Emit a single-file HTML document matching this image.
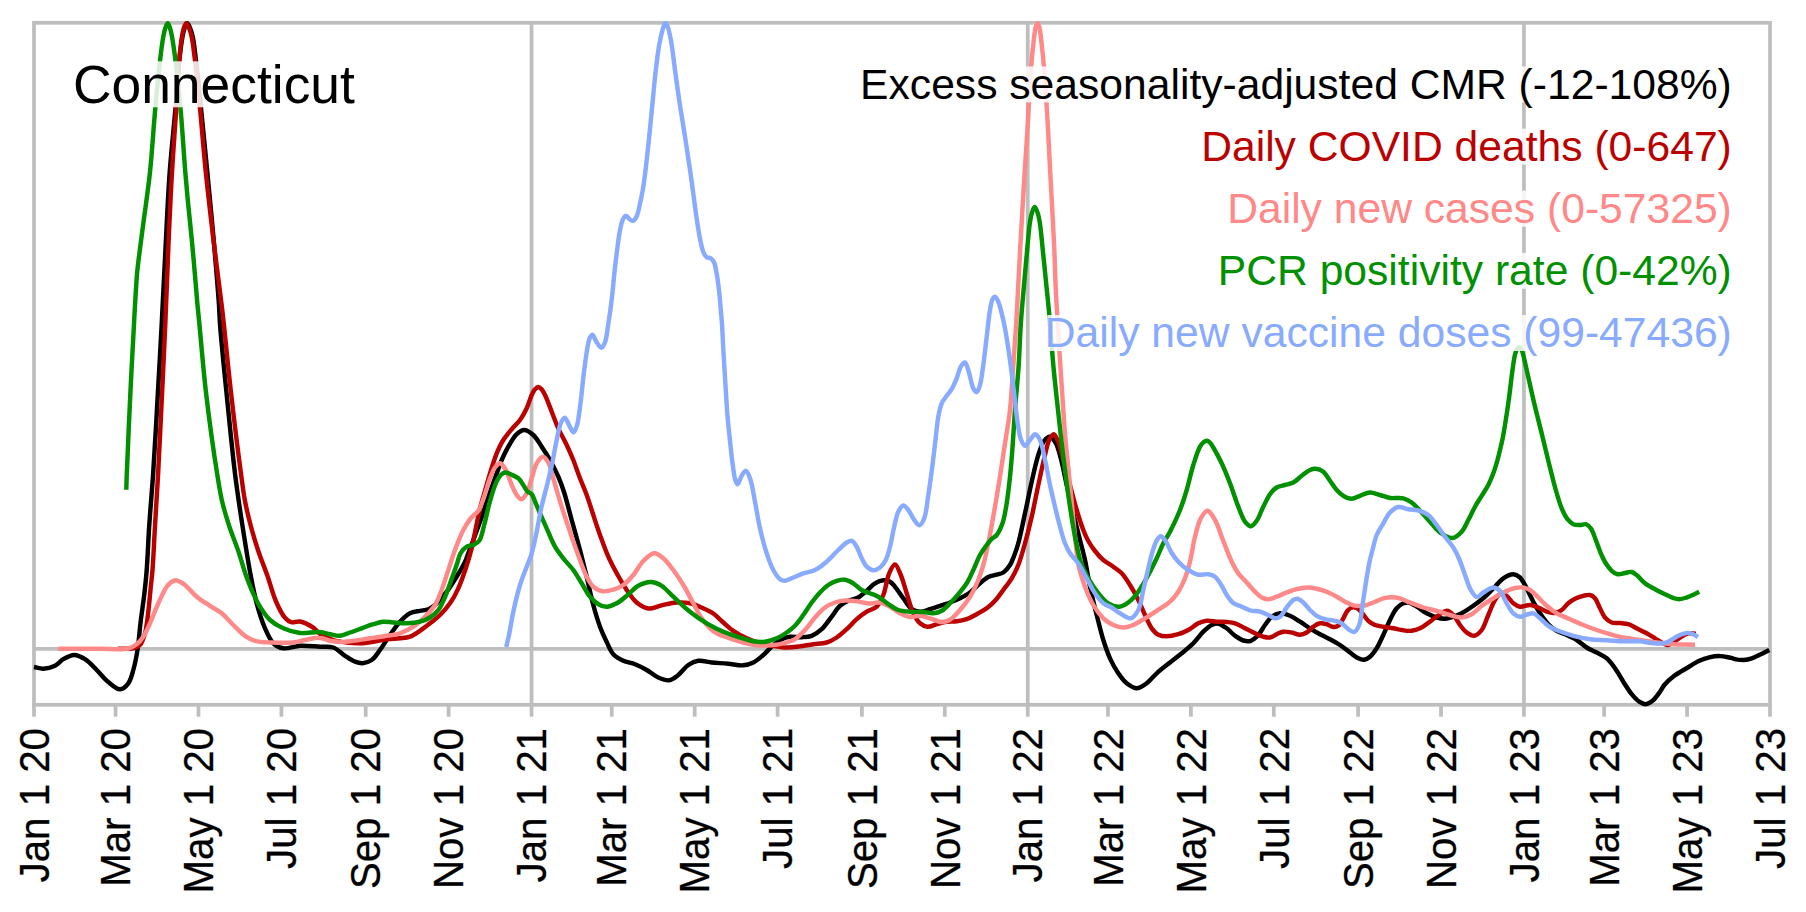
<!DOCTYPE html>
<html lang="en"><head><meta charset="utf-8"><title>Connecticut</title>
<style>html,body{margin:0;padding:0;background:#fff}body{width:1806px;height:912px;overflow:hidden}svg{display:block}text{font-family:"Liberation Sans", Arial, Helvetica, sans-serif}</style></head><body>
<svg width="1806" height="912" viewBox="0 0 1806 912">
<rect width="1806" height="912" fill="#fff"/>
<rect x="34.00" y="22.80" width="1736.00" height="682.00" fill="#fff" stroke="#bebebe" stroke-width="3.75"/>
<g stroke="#bebebe" stroke-width="3.75" fill="none">
<line x1="531.55" y1="22.80" x2="531.55" y2="704.80"/>
<line x1="1027.75" y1="22.80" x2="1027.75" y2="704.80"/>
<line x1="1523.94" y1="22.80" x2="1523.94" y2="704.80"/>
<line x1="34.00" y1="648.75" x2="1770.00" y2="648.75"/>
<line x1="34.00" y1="704.80" x2="34.00" y2="716.70"/>
<line x1="115.57" y1="704.80" x2="115.57" y2="716.70"/>
<line x1="198.49" y1="704.80" x2="198.49" y2="716.70"/>
<line x1="281.42" y1="704.80" x2="281.42" y2="716.70"/>
<line x1="365.70" y1="704.80" x2="365.70" y2="716.70"/>
<line x1="448.63" y1="704.80" x2="448.63" y2="716.70"/>
<line x1="531.55" y1="704.80" x2="531.55" y2="716.70"/>
<line x1="611.76" y1="704.80" x2="611.76" y2="716.70"/>
<line x1="694.69" y1="704.80" x2="694.69" y2="716.70"/>
<line x1="777.61" y1="704.80" x2="777.61" y2="716.70"/>
<line x1="861.90" y1="704.80" x2="861.90" y2="716.70"/>
<line x1="944.82" y1="704.80" x2="944.82" y2="716.70"/>
<line x1="1027.75" y1="704.80" x2="1027.75" y2="716.70"/>
<line x1="1107.95" y1="704.80" x2="1107.95" y2="716.70"/>
<line x1="1190.88" y1="704.80" x2="1190.88" y2="716.70"/>
<line x1="1273.81" y1="704.80" x2="1273.81" y2="716.70"/>
<line x1="1358.09" y1="704.80" x2="1358.09" y2="716.70"/>
<line x1="1441.02" y1="704.80" x2="1441.02" y2="716.70"/>
<line x1="1523.94" y1="704.80" x2="1523.94" y2="716.70"/>
<line x1="1604.15" y1="704.80" x2="1604.15" y2="716.70"/>
<line x1="1687.07" y1="704.80" x2="1687.07" y2="716.70"/>
<line x1="1770.00" y1="704.80" x2="1770.00" y2="716.70"/>
</g>
<g fill="none" stroke-width="4.45" stroke-linejoin="round" stroke-linecap="butt">
<path stroke="#000000" d="M34.0 667.0C37.1 667.6 40.0 668.8 43.3 668.7C47.0 668.6 51.6 667.5 55.0 665.8C58.2 664.2 60.2 661.0 63.3 659.2C66.6 657.3 70.6 655.0 74.2 655.0C77.8 655.0 81.5 657.0 85.0 659.2C89.1 661.7 92.9 666.2 96.7 670.0C100.6 673.8 104.2 678.7 108.3 682.0C112.0 685.0 116.5 689.3 120.0 689.2C123.0 689.1 126.2 686.1 128.3 683.3C130.8 680.0 131.9 674.9 133.3 670.0C135.0 664.1 136.3 657.3 137.5 650.0C138.9 641.5 139.5 631.2 140.6 622.0C141.7 612.9 143.2 603.8 144.2 595.0C145.2 586.5 146.0 579.5 146.7 570.0C147.7 557.4 148.2 541.1 149.2 526.0C150.3 509.9 151.7 494.9 153.0 476.0C154.7 451.3 156.5 417.4 158.0 390.7C159.3 367.1 160.5 347.6 161.7 324.0C163.1 297.3 164.6 265.4 166.0 238.7C167.2 215.1 168.1 194.0 169.7 172.0C171.3 150.5 173.8 128.0 175.5 108.3C177.0 91.3 177.9 74.0 179.3 60.8C180.3 51.4 181.3 42.9 182.5 36.7C183.3 32.7 184.0 29.5 185.0 27.0C185.7 25.3 186.5 23.1 187.3 23.1C188.1 23.1 189.0 25.7 189.8 27.5C190.9 30.0 191.8 32.9 192.7 36.7C194.1 42.8 194.9 51.4 196.0 60.8C197.6 74.0 199.3 91.3 201.0 108.3C203.0 128.0 205.2 150.5 207.3 172.0C209.4 194.0 211.6 216.5 213.6 238.7C215.5 260.9 218.0 289.9 219.0 305.3C219.5 313.4 219.4 315.9 220.0 324.0C221.1 339.4 223.9 367.1 226.3 390.7C229.0 417.4 232.2 451.4 235.3 476.0C237.7 494.9 239.9 509.3 242.5 526.0C245.1 542.7 248.1 561.9 250.8 576.0C252.8 586.5 254.3 594.5 256.7 603.3C259.0 611.9 261.9 621.1 265.0 628.3C267.5 634.1 269.8 639.9 273.3 643.3C276.1 646.0 279.4 647.7 283.3 648.3C288.1 649.1 294.2 646.1 300.0 645.8C306.4 645.5 314.0 646.4 320.0 646.7C324.9 647.0 329.2 646.1 333.3 647.5C337.6 649.0 341.2 653.3 345.0 655.8C348.4 658.0 351.8 660.5 355.0 661.7C357.6 662.7 359.9 663.5 362.5 663.3C365.4 663.1 368.9 661.9 371.7 660.0C374.9 657.8 377.2 653.8 380.0 650.0C383.3 645.6 386.6 639.8 390.0 635.0C393.3 630.4 396.4 625.5 400.0 621.7C403.2 618.4 406.4 615.1 410.0 613.3C413.2 611.7 416.8 611.5 420.0 610.8C422.9 610.2 425.6 610.3 428.3 609.2C431.2 608.0 433.9 605.8 436.7 603.3C440.1 600.2 443.5 595.9 446.7 591.7C450.2 587.1 453.6 581.6 456.7 576.5C459.7 571.7 463.0 566.3 465.0 562.0C466.5 558.8 467.0 556.8 468.3 553.3C470.3 548.0 473.5 539.6 475.8 533.3C477.9 527.6 479.7 522.7 481.7 517.0C483.9 510.7 486.0 503.5 488.3 497.0C490.5 490.6 492.8 484.5 495.0 478.3C497.2 472.2 499.3 465.6 501.7 460.0C503.8 455.2 505.8 451.0 508.3 446.7C510.8 442.4 513.6 437.0 516.7 434.2C519.0 432.0 521.6 430.0 524.2 430.0C527.1 430.0 530.6 432.6 533.3 435.0C536.5 437.9 539.0 442.6 541.7 446.7C544.5 450.9 547.3 455.2 550.0 460.0C552.9 465.2 555.9 471.2 558.3 476.7C560.5 481.9 562.1 486.1 564.0 492.0C566.5 499.9 569.1 510.5 571.7 520.0C574.4 529.8 577.4 540.3 580.0 550.0C582.4 559.1 584.5 567.7 586.7 576.7C588.9 586.0 590.9 596.2 593.3 605.0C595.4 612.8 597.6 620.2 600.0 626.7C602.1 632.3 604.4 637.2 606.7 642.0C608.8 646.3 610.4 651.0 613.3 654.2C616.0 657.2 619.7 659.1 623.3 660.8C626.9 662.5 631.2 662.7 635.0 664.2C639.0 665.7 642.9 667.8 646.7 670.0C650.6 672.2 654.3 675.8 658.3 677.5C661.9 679.1 665.8 680.8 669.2 680.3C672.5 679.8 675.3 677.3 678.3 675.0C681.7 672.4 684.7 667.4 688.3 665.0C691.4 662.9 694.7 661.3 698.3 660.8C702.4 660.2 707.0 662.0 711.7 662.5C716.9 663.0 722.9 663.2 728.3 663.7C733.4 664.2 738.8 665.7 743.3 665.3C747.0 665.0 750.1 664.1 753.3 662.5C756.8 660.8 760.1 657.8 763.3 655.0C766.7 652.0 770.0 647.8 773.3 645.0C776.1 642.7 778.8 640.6 781.7 639.2C784.4 637.9 787.0 637.1 790.0 636.7C793.5 636.3 798.0 637.4 801.7 637.2C805.2 637.0 808.5 637.0 811.7 635.8C815.2 634.5 818.6 632.1 821.7 629.2C825.3 625.9 828.5 620.7 831.7 616.7C834.6 613.0 836.9 608.5 840.0 605.8C842.6 603.5 845.3 602.2 848.3 600.8C851.4 599.4 855.2 599.2 858.3 597.5C861.4 595.8 863.9 593.1 866.7 590.8C869.5 588.4 872.1 585.1 875.0 583.3C877.6 581.7 880.7 580.4 883.3 580.2C885.6 580.0 888.1 580.6 890.0 581.7C892.0 582.8 893.2 584.6 895.0 586.7C897.5 589.7 900.5 594.5 903.3 598.3C906.1 602.0 908.5 607.0 911.7 609.2C914.2 610.9 917.1 611.6 920.0 611.7C923.2 611.8 926.7 610.2 930.0 609.2C933.4 608.2 936.7 606.9 940.0 605.8C943.3 604.7 946.7 603.7 950.0 602.5C953.4 601.2 956.7 599.9 960.0 598.3C963.4 596.6 966.8 594.9 970.0 592.5C973.5 589.9 976.8 586.0 980.0 583.3C982.8 580.9 985.4 578.4 988.3 577.0C991.0 575.7 994.1 575.5 996.7 574.7C999.0 574.0 1001.3 573.8 1003.3 572.5C1005.8 570.9 1008.2 567.8 1010.0 565.0C1011.8 562.3 1012.7 559.3 1014.0 556.0C1015.5 552.2 1016.9 548.5 1018.3 543.3C1020.5 535.5 1022.8 523.4 1025.0 513.3C1027.3 502.9 1029.4 491.8 1031.7 481.7C1033.8 472.4 1035.9 462.4 1038.3 455.0C1040.1 449.4 1041.7 443.9 1044.2 440.8C1045.9 438.7 1048.2 436.5 1050.0 436.7C1052.0 436.9 1054.2 440.4 1055.8 443.3C1058.0 447.1 1059.2 452.5 1060.8 458.3C1062.9 465.9 1064.7 476.0 1066.7 485.0C1068.8 494.3 1071.1 504.0 1073.3 513.3C1075.5 522.3 1077.9 531.7 1080.0 540.0C1081.8 547.1 1083.4 552.8 1085.0 560.0C1086.8 568.2 1088.1 577.7 1090.0 586.7C1092.0 596.0 1094.4 605.9 1096.7 615.0C1098.9 623.6 1100.9 632.4 1103.3 640.0C1105.4 646.6 1107.4 652.6 1110.0 658.3C1112.4 663.6 1115.3 668.9 1118.3 673.3C1120.9 677.1 1123.5 680.8 1126.7 683.3C1129.7 685.6 1133.4 688.3 1136.7 688.3C1140.0 688.3 1143.5 685.6 1146.7 683.3C1150.3 680.7 1153.0 676.6 1156.7 673.3C1160.7 669.7 1165.7 665.9 1170.0 662.5C1174.0 659.3 1177.8 656.5 1181.7 653.3C1185.6 650.1 1189.7 646.9 1193.3 643.3C1196.9 639.7 1200.0 634.9 1203.3 631.7C1206.1 629.0 1208.9 626.3 1211.7 625.0C1213.9 624.0 1216.0 623.3 1218.3 623.7C1221.0 624.1 1224.0 626.4 1226.7 628.3C1229.6 630.4 1232.1 633.7 1235.0 635.8C1237.7 637.7 1240.5 639.7 1243.3 640.5C1245.8 641.2 1248.4 641.6 1250.8 640.8C1253.5 639.9 1256.0 637.4 1258.3 635.0C1260.8 632.3 1262.7 628.1 1265.0 625.0C1267.2 622.1 1269.1 618.7 1271.7 616.7C1274.1 614.9 1277.1 613.5 1280.0 613.3C1283.1 613.1 1286.8 614.5 1290.0 615.8C1293.4 617.2 1296.7 619.6 1300.0 621.7C1303.4 623.8 1306.6 626.2 1310.0 628.3C1313.3 630.4 1316.6 632.4 1320.0 634.2C1323.3 636.0 1326.7 637.4 1330.0 639.2C1333.4 641.0 1336.7 642.8 1340.0 645.0C1343.4 647.3 1346.8 650.2 1350.0 652.5C1352.9 654.6 1355.7 657.1 1358.3 658.3C1360.3 659.2 1362.3 659.9 1364.2 659.7C1366.2 659.5 1368.2 658.2 1370.0 656.7C1372.4 654.8 1374.6 651.5 1376.7 648.3C1379.1 644.5 1381.1 639.6 1383.3 635.0C1385.6 630.2 1387.6 624.6 1390.0 620.0C1392.1 615.8 1394.1 611.2 1396.7 608.3C1398.7 606.0 1401.1 604.2 1403.3 603.3C1405.0 602.6 1406.5 602.2 1408.3 602.5C1410.8 602.9 1413.8 605.0 1416.7 606.7C1419.9 608.6 1423.3 611.5 1426.7 613.3C1430.0 615.0 1433.5 616.6 1436.7 617.5C1439.5 618.3 1442.4 618.8 1445.0 618.7C1447.4 618.6 1449.5 618.0 1452.0 617.2C1455.0 616.3 1458.4 615.0 1461.7 613.3C1465.5 611.3 1469.5 608.5 1473.3 605.8C1477.3 603.0 1481.3 599.9 1485.0 596.7C1488.6 593.5 1491.8 589.9 1495.0 586.7C1497.9 583.8 1500.2 580.4 1503.3 578.3C1506.3 576.3 1510.3 574.1 1513.3 574.2C1515.8 574.3 1518.0 575.7 1520.0 577.5C1522.6 579.9 1524.6 584.5 1526.7 588.3C1529.0 592.5 1531.0 597.4 1533.3 601.7C1535.5 605.7 1537.5 609.6 1540.0 613.3C1542.5 617.1 1545.3 621.2 1548.3 624.2C1550.9 626.9 1553.6 629.0 1556.7 630.8C1559.8 632.6 1563.4 633.5 1566.7 635.0C1570.1 636.5 1573.5 638.0 1576.7 640.0C1580.1 642.1 1583.3 645.4 1586.7 647.5C1589.9 649.5 1593.4 650.7 1596.7 652.5C1600.1 654.3 1603.7 655.8 1606.7 658.3C1609.9 661.0 1612.4 664.6 1615.0 668.3C1617.9 672.3 1620.5 677.3 1623.3 681.7C1626.1 686.0 1628.8 690.7 1631.7 694.2C1634.1 697.2 1636.6 700.0 1639.2 701.7C1641.3 703.1 1643.6 704.3 1645.8 704.2C1648.1 704.1 1650.4 702.5 1652.5 700.8C1655.2 698.7 1657.9 694.6 1660.0 691.7C1661.7 689.3 1662.4 687.3 1664.3 685.0C1666.8 682.0 1670.6 678.6 1674.3 675.8C1678.3 672.8 1683.4 670.1 1687.7 667.5C1691.7 665.1 1695.5 662.5 1699.3 660.8C1702.7 659.2 1705.9 658.1 1709.3 657.3C1712.8 656.5 1716.5 656.0 1720.0 656.1C1723.4 656.2 1726.9 657.1 1730.0 657.7C1732.7 658.3 1735.3 659.2 1737.7 659.6C1739.8 659.9 1741.4 660.1 1743.5 660.0C1746.0 659.8 1749.1 659.2 1751.8 658.3C1754.6 657.4 1757.4 655.9 1760.2 654.6C1763.2 653.2 1766.3 651.5 1769.3 650.0"/>
<path stroke="#bb0000" d="M118.0 648.7C121.3 648.7 125.2 648.8 128.0 648.7C130.0 648.6 131.5 648.8 133.3 648.3C135.5 647.7 138.2 646.9 140.0 645.0C142.4 642.5 143.7 637.9 145.0 633.3C146.7 627.3 147.4 619.2 148.3 611.7C149.3 603.7 150.0 594.2 150.8 586.7C151.4 580.6 152.0 576.9 152.5 570.0C153.4 558.8 154.1 541.1 155.0 526.0C155.9 509.9 157.0 494.9 158.0 476.0C159.3 451.3 160.9 417.4 162.2 390.7C163.3 367.1 164.3 347.6 165.3 324.0C166.5 297.3 167.5 265.4 168.7 238.7C169.8 215.1 170.7 194.0 172.0 172.0C173.3 150.5 175.0 128.0 176.3 108.3C177.4 91.3 178.0 74.0 179.2 60.8C180.0 51.4 181.0 42.8 182.0 36.7C182.6 32.9 183.1 30.0 184.0 27.5C184.6 25.7 185.5 23.1 186.3 23.1C187.2 23.1 188.2 26.1 189.0 28.0C190.0 30.4 190.9 33.0 191.7 36.7C193.0 42.7 193.9 51.4 195.0 60.8C196.6 74.0 198.3 91.3 200.0 108.3C201.9 128.0 203.6 150.5 205.8 172.0C208.0 194.0 210.7 216.5 213.3 238.7C216.0 260.9 219.9 289.9 221.7 305.3C222.7 313.4 222.9 315.8 223.8 324.0C225.5 339.4 228.1 367.1 230.8 390.7C233.8 417.4 238.6 456.0 241.3 476.0C242.8 486.8 243.4 492.7 245.0 501.0C246.6 509.4 248.6 517.7 250.8 526.0C253.0 534.4 255.5 542.7 258.3 551.0C261.1 559.4 264.6 567.6 267.5 576.0C270.4 584.3 272.6 593.6 275.8 601.0C278.5 607.3 281.7 614.1 285.0 617.7C287.1 620.1 289.2 621.7 291.7 622.3C294.2 622.9 297.0 621.0 300.0 621.5C304.0 622.2 309.8 625.3 313.3 627.7C316.1 629.6 317.2 632.1 320.0 634.0C323.5 636.4 328.8 638.6 333.3 640.0C337.7 641.4 342.2 642.0 346.7 642.5C351.1 643.0 355.6 643.4 360.0 643.3C364.4 643.2 368.9 642.4 373.3 641.7C377.8 641.0 382.2 639.8 386.7 639.2C391.1 638.6 395.9 638.8 400.0 638.3C403.6 637.9 406.8 637.9 410.0 636.7C413.5 635.5 416.7 633.0 420.0 630.8C423.4 628.5 426.7 625.9 430.0 623.3C433.4 620.6 436.8 618.2 440.0 615.0C443.5 611.6 447.0 607.6 450.0 603.3C453.2 598.8 455.8 593.8 458.3 588.3C461.1 582.2 463.6 575.0 465.8 568.3C468.0 561.7 470.0 555.0 471.7 548.3C473.4 541.7 474.4 535.0 475.8 528.3C477.2 521.6 478.6 514.0 480.0 508.3C481.1 503.9 482.0 501.2 483.3 496.7C485.1 490.3 487.7 480.8 490.0 473.3C492.2 466.3 494.3 459.2 496.7 453.3C498.8 448.3 500.7 444.1 503.3 440.0C505.8 436.1 508.8 432.6 511.7 429.2C514.4 426.0 517.5 423.4 520.0 420.0C522.6 416.5 524.8 412.4 526.7 408.3C528.7 404.1 530.1 398.5 531.7 395.0C532.8 392.6 533.7 390.7 535.0 389.3C536.0 388.2 537.2 386.9 538.3 386.9C539.4 386.9 540.6 388.2 541.6 389.3C542.9 390.7 543.8 392.5 545.0 395.0C547.0 399.0 549.5 406.1 551.7 411.7C553.9 417.2 555.8 422.8 558.3 428.3C560.8 433.9 564.1 439.6 566.7 445.0C569.1 450.1 571.2 454.7 573.3 460.0C575.6 465.8 577.7 472.4 580.0 478.3C582.2 484.0 584.7 489.6 586.7 495.0C588.6 500.1 589.8 504.4 591.7 510.0C594.1 517.3 597.1 527.0 600.0 535.0C602.7 542.5 605.3 550.0 608.3 556.7C610.9 562.7 613.7 567.8 616.7 573.3C619.8 578.9 623.2 584.9 626.7 590.0C629.9 594.6 632.9 599.4 636.7 602.5C640.2 605.3 644.2 608.0 648.3 608.5C652.5 609.0 657.1 606.3 661.7 605.3C666.5 604.3 671.8 602.8 676.7 602.5C681.2 602.2 685.6 602.4 690.0 603.3C694.5 604.3 699.2 606.5 703.3 608.3C706.9 609.9 710.1 611.3 713.3 613.5C716.8 615.9 719.9 619.6 723.3 622.5C726.6 625.4 729.6 628.3 733.3 630.8C737.3 633.6 742.2 636.2 746.7 638.3C751.1 640.3 755.5 642.0 760.0 643.3C764.4 644.5 768.8 645.1 773.3 645.8C777.7 646.5 782.2 647.4 786.7 647.5C791.1 647.6 795.6 646.8 800.0 646.3C804.4 645.7 808.9 644.8 813.3 644.2C817.8 643.6 822.7 643.7 826.7 642.5C830.4 641.4 833.5 639.6 836.7 637.5C840.2 635.2 843.4 632.2 846.7 629.2C850.1 626.1 853.3 622.2 856.7 619.2C859.9 616.4 863.3 613.8 866.7 611.7C869.9 609.7 874.0 609.3 876.7 606.7C879.7 603.9 881.4 599.6 883.3 595.0C885.8 589.0 886.7 578.8 889.2 573.3C890.9 569.5 893.1 564.4 895.0 564.5C897.0 564.6 899.0 570.9 900.8 575.0C903.0 580.2 904.7 587.1 906.7 593.3C908.8 599.8 910.7 607.9 913.3 613.3C915.3 617.4 917.3 621.0 920.0 623.3C922.2 625.2 924.8 626.5 927.5 626.7C930.4 626.9 933.6 625.0 936.7 624.2C940.0 623.3 943.3 622.2 946.7 621.7C950.0 621.2 953.4 621.7 956.7 621.3C960.1 620.9 963.4 620.3 966.7 619.2C970.1 618.0 973.4 616.0 976.7 614.2C980.1 612.4 983.6 610.6 986.7 608.3C989.7 606.1 992.4 603.7 995.0 600.8C997.9 597.6 1000.6 593.7 1003.3 590.0C1006.1 586.2 1009.2 582.4 1011.7 578.3C1014.2 574.1 1016.3 570.1 1018.3 565.0C1020.8 558.7 1022.9 550.9 1025.0 543.3C1027.3 534.9 1029.6 526.0 1031.7 516.7C1034.0 506.6 1036.1 495.4 1038.3 485.0C1040.5 474.9 1042.9 463.3 1045.0 455.0C1046.5 449.1 1047.3 443.7 1049.2 440.0C1050.5 437.5 1052.2 434.1 1053.7 434.2C1055.3 434.3 1056.9 438.5 1058.3 441.7C1060.3 446.4 1061.5 453.4 1063.3 460.0C1065.4 467.7 1067.8 476.7 1070.0 485.0C1072.2 493.3 1074.4 502.2 1076.7 510.0C1078.8 517.1 1081.1 524.4 1083.3 530.0C1084.9 534.1 1086.1 537.1 1088.0 540.5C1090.0 544.1 1092.4 547.7 1095.0 551.0C1097.5 554.2 1100.2 557.4 1103.3 560.0C1106.3 562.6 1110.2 564.4 1113.3 566.7C1116.3 568.9 1119.1 570.6 1121.7 573.3C1124.7 576.5 1127.3 580.8 1130.0 585.0C1132.9 589.6 1135.8 594.9 1138.3 600.0C1140.8 604.9 1142.7 610.2 1145.0 615.0C1147.2 619.6 1149.1 624.8 1151.7 628.3C1153.7 631.0 1155.7 633.4 1158.3 634.7C1160.8 636.0 1163.7 636.3 1166.7 636.3C1170.3 636.3 1174.6 635.3 1178.3 634.2C1181.8 633.2 1185.0 631.8 1188.3 630.0C1191.7 628.2 1195.0 624.9 1198.3 623.3C1201.1 622.0 1203.7 621.1 1206.7 620.8C1209.9 620.5 1213.4 621.5 1216.7 621.7C1220.0 621.9 1223.5 621.7 1226.7 622.0C1229.6 622.3 1232.2 622.4 1235.0 623.3C1238.3 624.3 1241.7 626.6 1245.0 628.3C1248.3 630.0 1251.8 631.8 1255.0 633.3C1257.9 634.6 1260.6 636.0 1263.3 636.7C1265.6 637.3 1267.8 637.9 1270.0 637.5C1272.3 637.1 1274.5 635.2 1276.7 634.2C1278.9 633.3 1280.9 632.0 1283.3 631.7C1285.9 631.4 1288.9 632.0 1291.7 632.5C1294.5 633.0 1297.4 634.8 1300.0 634.7C1302.4 634.6 1304.6 633.7 1306.7 632.5C1309.1 631.2 1311.0 628.3 1313.3 626.7C1315.4 625.3 1317.7 623.7 1320.0 623.3C1322.2 622.9 1324.5 623.6 1326.7 624.2C1329.0 624.8 1331.1 626.9 1333.3 627.0C1335.3 627.1 1337.6 626.3 1339.2 625.0C1341.0 623.6 1341.9 620.6 1343.3 618.3C1344.7 615.9 1345.9 612.7 1347.5 610.8C1348.8 609.3 1350.1 608.0 1351.7 607.5C1353.2 607.1 1355.1 607.3 1356.7 608.0C1358.5 608.8 1360.0 610.7 1361.7 612.5C1363.8 614.8 1365.9 618.6 1368.3 620.8C1370.4 622.7 1372.6 624.0 1375.0 625.0C1377.5 626.0 1380.4 626.2 1383.3 626.7C1386.5 627.3 1390.0 627.7 1393.3 628.3C1396.6 628.9 1400.1 629.9 1403.3 630.3C1406.2 630.7 1408.9 631.1 1411.7 630.8C1414.5 630.5 1417.2 629.6 1420.0 628.3C1423.3 626.8 1426.7 624.0 1430.0 621.7C1433.4 619.3 1436.9 616.1 1440.0 614.2C1442.4 612.7 1444.5 610.7 1446.7 610.8C1448.9 610.9 1451.3 613.0 1453.3 615.0C1455.8 617.4 1457.7 622.0 1460.0 625.0C1462.1 627.8 1464.2 630.7 1466.7 632.5C1469.0 634.1 1471.8 636.1 1474.2 635.8C1476.8 635.5 1479.6 632.7 1481.7 630.0C1484.5 626.4 1486.1 620.0 1488.3 615.0C1490.5 610.0 1492.6 603.7 1495.0 600.0C1496.6 597.5 1498.0 594.9 1500.0 594.2C1501.9 593.6 1504.7 594.6 1506.7 595.8C1509.2 597.3 1510.9 601.4 1513.3 603.3C1515.4 604.9 1517.5 606.3 1520.0 606.7C1522.9 607.1 1526.8 604.8 1530.0 605.0C1532.9 605.2 1535.6 606.4 1538.3 607.5C1541.1 608.6 1543.8 610.8 1546.7 611.7C1549.4 612.6 1552.4 613.3 1555.0 613.0C1557.4 612.7 1559.6 611.5 1561.7 610.0C1564.1 608.4 1566.0 605.2 1568.3 603.3C1570.4 601.5 1572.6 599.9 1575.0 598.7C1577.5 597.4 1580.6 596.4 1583.3 595.8C1585.6 595.3 1588.0 594.5 1590.0 595.0C1591.9 595.4 1593.5 596.6 1595.0 598.3C1597.0 600.6 1598.3 605.1 1600.0 608.3C1601.6 611.4 1602.9 615.1 1605.0 617.5C1606.9 619.7 1609.2 621.6 1611.7 622.5C1614.2 623.4 1617.2 622.7 1620.0 623.0C1622.8 623.3 1625.6 623.4 1628.3 624.2C1631.2 625.1 1633.8 626.9 1636.7 628.3C1639.9 629.9 1643.6 631.6 1646.7 633.3C1649.6 634.9 1652.4 636.7 1655.0 638.3C1657.4 639.8 1659.5 641.3 1661.7 642.5C1663.7 643.5 1665.6 645.0 1667.5 645.0C1669.4 645.0 1671.4 643.6 1673.3 642.5C1675.5 641.2 1677.6 639.0 1680.0 637.5C1682.6 635.9 1685.5 633.9 1688.3 633.3C1690.8 632.8 1693.4 633.6 1696.0 633.7"/>
<path stroke="#ff8888" d="M58.3 648.7C72.2 648.7 87.4 648.7 100.0 648.7C110.3 648.7 121.8 650.1 128.3 648.5C132.1 647.6 134.2 646.1 136.7 644.2C139.2 642.2 141.3 639.7 143.3 636.7C145.8 633.0 147.7 628.3 150.0 623.3C152.7 617.3 155.4 609.6 158.3 603.3C161.0 597.5 164.1 590.3 166.7 586.7C168.2 584.6 169.4 583.4 171.0 582.3C172.5 581.3 174.2 580.2 175.8 580.2C177.4 580.2 179.2 581.5 180.8 582.3C182.3 583.1 183.3 583.7 185.0 585.0C188.0 587.4 192.5 593.2 196.7 596.7C200.8 600.1 205.7 602.9 210.0 605.8C214.0 608.5 218.0 610.3 221.7 613.3C225.8 616.6 229.4 621.2 233.3 625.0C237.2 628.7 241.1 633.1 245.0 635.8C248.3 638.1 251.1 639.7 255.0 640.8C259.8 642.2 265.8 642.2 271.7 642.5C278.4 642.8 287.2 643.1 293.3 642.5C297.8 642.0 301.3 640.8 305.0 640.0C308.5 639.3 311.9 638.3 315.0 638.0C317.5 637.8 319.6 637.8 322.0 638.2C324.6 638.7 327.0 640.2 330.0 640.8C333.5 641.5 337.8 642.0 341.7 642.0C345.6 642.0 349.1 641.3 353.3 640.8C358.4 640.2 364.4 639.1 370.0 638.3C375.6 637.5 381.5 636.7 386.7 635.8C391.4 635.0 395.7 634.8 400.0 633.3C404.5 631.8 409.2 629.4 413.3 626.7C417.5 623.9 421.4 620.3 425.0 616.7C428.6 613.1 432.3 609.2 435.0 605.0C437.6 600.9 439.1 596.5 441.0 591.7C443.1 586.3 444.9 580.4 447.0 574.0C449.5 566.6 452.2 557.6 455.0 550.0C457.6 543.0 460.3 535.7 463.3 530.0C465.7 525.4 468.3 521.4 471.0 518.0C473.4 515.1 476.4 513.6 478.5 510.5C480.9 506.8 482.2 501.9 484.0 497.0C486.1 491.3 487.9 483.6 490.0 478.3C491.6 474.2 493.0 470.1 495.0 467.5C496.5 465.6 498.3 463.2 500.0 463.3C501.9 463.5 504.1 467.1 505.8 470.0C508.1 473.9 509.7 480.5 511.7 485.0C513.4 488.7 514.8 492.5 516.7 495.0C518.1 496.9 519.7 499.3 521.3 499.2C523.1 499.1 525.2 495.9 526.7 493.3C528.9 489.6 530.0 483.3 531.7 478.3C533.4 473.3 534.4 467.1 536.7 463.3C538.4 460.4 541.0 456.7 543.0 456.7C544.9 456.7 546.8 459.9 548.3 462.5C550.5 466.3 551.7 473.1 553.3 478.3C554.8 483.3 556.0 487.8 557.5 493.0C559.2 498.9 561.1 505.0 563.3 511.7C565.8 519.4 568.9 528.5 571.7 536.7C574.4 544.6 577.3 552.9 580.0 560.0C582.3 566.1 584.2 571.9 586.7 576.7C588.7 580.6 590.5 584.2 593.3 586.7C595.9 589.0 599.2 590.8 602.5 591.3C605.9 591.8 609.8 590.7 613.3 589.7C616.8 588.6 620.1 587.2 623.3 585.0C626.9 582.5 630.1 578.8 633.3 575.0C636.8 570.9 639.5 564.7 643.3 561.0C646.6 557.7 650.7 553.5 654.2 553.3C657.3 553.1 660.4 555.9 663.3 558.3C666.8 561.2 670.1 565.8 673.3 570.0C676.8 574.6 680.1 579.7 683.3 585.0C686.8 590.7 690.1 597.5 693.3 603.3C696.2 608.6 698.7 613.9 701.7 618.3C704.3 622.1 707.1 625.6 710.0 628.3C712.5 630.7 714.9 632.4 718.0 634.0C721.5 635.8 725.9 636.9 730.0 638.3C734.3 639.8 738.8 641.3 743.3 642.5C747.7 643.7 752.2 644.8 756.7 645.3C761.1 645.8 765.6 645.6 770.0 645.3C774.4 645.0 779.1 644.4 783.3 643.3C787.4 642.3 791.4 641.3 795.0 639.2C798.7 637.0 801.8 633.4 805.0 630.0C808.5 626.3 811.6 621.3 815.0 617.5C818.2 613.9 821.4 610.1 825.0 607.5C828.2 605.2 831.6 603.7 835.0 602.5C838.3 601.4 841.5 600.7 845.0 600.5C848.7 600.3 852.7 600.8 856.7 601.3C861.0 601.8 865.9 603.4 870.0 603.5C873.6 603.6 876.7 602.0 880.0 602.5C883.4 603.0 886.7 605.0 890.0 606.7C893.4 608.5 896.6 611.6 900.0 613.3C903.2 614.9 906.6 616.6 910.0 617.0C913.3 617.4 916.7 615.6 920.0 615.8C923.4 616.0 926.6 617.3 930.0 618.3C933.8 619.4 938.1 621.9 941.7 622.0C944.7 622.1 947.3 621.2 950.0 619.7C953.4 617.7 956.8 613.6 960.0 610.0C963.5 606.0 967.0 601.5 970.0 596.7C973.2 591.6 975.9 585.8 978.3 580.0C980.7 574.1 982.4 568.3 984.2 561.7C986.2 554.1 987.8 545.7 989.5 537.0C991.4 527.4 993.2 516.8 995.0 506.7C996.7 496.7 998.4 487.0 1000.0 476.7C1001.7 465.9 1003.3 454.4 1005.0 443.3C1006.7 432.2 1008.7 422.0 1010.0 410.0C1011.5 396.2 1012.2 379.7 1013.3 365.0C1014.3 351.0 1015.4 337.0 1016.2 324.0C1016.9 312.1 1017.4 302.0 1018.0 290.0C1018.7 276.5 1019.4 263.3 1020.3 247.0C1021.5 225.5 1023.3 194.7 1024.7 172.0C1025.9 153.1 1027.0 137.2 1028.0 120.0C1029.0 103.2 1029.7 84.5 1030.8 70.0C1031.7 58.7 1032.9 47.7 1033.8 40.0C1034.4 35.1 1034.7 31.1 1035.5 28.0C1036.1 26.0 1036.8 23.1 1037.5 23.1C1038.2 23.1 1038.9 26.0 1039.5 28.0C1040.3 31.1 1040.6 35.1 1041.2 40.0C1042.1 47.7 1043.3 58.7 1044.2 70.0C1045.4 84.5 1046.5 103.2 1047.5 120.0C1048.5 137.2 1049.2 153.1 1050.2 172.0C1051.4 194.7 1053.2 225.5 1054.2 247.0C1054.9 263.3 1055.2 277.8 1055.8 290.0C1056.2 299.1 1056.6 304.3 1057.2 313.7C1058.0 327.5 1059.2 348.5 1060.3 365.0C1061.3 380.5 1062.3 396.1 1063.3 410.0C1064.1 421.9 1064.8 432.2 1065.8 443.3C1066.8 454.4 1068.1 465.6 1069.2 476.7C1070.3 487.8 1071.4 498.9 1072.5 510.0C1073.6 521.1 1074.7 533.5 1075.8 543.3C1076.6 551.0 1076.9 557.0 1078.3 564.0C1079.8 571.5 1082.4 579.6 1085.0 586.7C1087.4 593.2 1090.1 599.5 1093.3 605.0C1096.2 610.0 1099.7 614.8 1103.3 618.3C1106.4 621.2 1109.8 623.5 1113.3 625.0C1116.5 626.4 1120.0 627.5 1123.3 627.5C1126.6 627.5 1129.9 626.4 1133.3 625.0C1137.2 623.4 1141.1 620.6 1145.0 618.3C1148.9 615.9 1152.7 613.5 1156.7 610.8C1161.0 607.9 1166.3 605.1 1170.0 601.7C1173.3 598.7 1175.9 595.4 1178.3 591.7C1180.9 587.7 1183.1 583.1 1185.0 578.3C1187.0 573.1 1188.5 567.8 1190.0 561.7C1191.9 554.3 1193.0 544.3 1195.0 536.7C1196.7 530.0 1198.2 522.9 1200.8 518.3C1202.7 515.0 1205.2 510.7 1207.5 510.8C1210.0 510.9 1212.7 516.1 1215.0 520.0C1218.2 525.4 1220.5 534.0 1223.3 541.0C1226.1 547.9 1228.9 555.9 1231.7 561.7C1233.9 566.2 1235.7 569.8 1238.3 573.3C1240.8 576.7 1243.9 579.4 1246.7 582.5C1249.5 585.6 1252.3 589.1 1255.0 591.7C1257.3 593.9 1259.3 596.3 1261.7 597.5C1263.8 598.6 1266.0 599.2 1268.3 599.2C1270.9 599.2 1273.8 597.7 1276.7 596.7C1279.9 595.5 1283.3 593.8 1286.7 592.5C1290.0 591.3 1293.3 590.0 1296.7 589.2C1300.0 588.4 1303.4 587.6 1306.7 587.5C1310.0 587.4 1313.4 588.0 1316.7 588.7C1320.1 589.4 1323.4 590.4 1326.7 591.7C1330.1 593.0 1333.6 595.0 1336.7 596.7C1339.6 598.3 1342.2 600.2 1345.0 601.7C1347.7 603.1 1350.3 604.6 1353.3 605.3C1356.4 606.0 1360.0 606.2 1363.3 605.8C1366.7 605.3 1370.0 603.7 1373.3 602.5C1376.7 601.2 1380.1 599.2 1383.3 598.3C1386.2 597.5 1388.9 597.2 1391.7 597.2C1394.5 597.2 1397.2 597.5 1400.0 598.3C1403.2 599.2 1406.4 601.1 1410.0 602.5C1414.1 604.1 1418.8 606.1 1423.3 607.5C1427.7 608.9 1432.3 609.6 1436.7 610.8C1441.2 612.1 1445.7 613.9 1450.0 615.0C1454.0 616.1 1458.0 617.7 1461.7 617.5C1465.2 617.3 1468.5 616.0 1471.7 614.2C1475.2 612.2 1478.2 608.4 1481.7 605.8C1485.3 603.1 1489.4 600.7 1493.3 598.3C1497.2 596.0 1501.2 593.5 1505.0 591.7C1508.4 590.1 1511.9 588.7 1515.0 588.0C1517.6 587.4 1520.0 587.2 1522.5 587.5C1525.0 587.8 1527.6 588.6 1530.0 590.0C1532.9 591.7 1535.6 594.9 1538.3 597.5C1541.1 600.2 1543.7 603.2 1546.7 605.8C1549.8 608.5 1553.0 611.1 1556.7 613.3C1560.7 615.6 1565.6 617.2 1570.0 619.2C1574.4 621.1 1578.8 623.2 1583.3 625.0C1587.7 626.8 1592.2 628.5 1596.7 630.0C1601.1 631.5 1605.5 632.9 1610.0 634.2C1614.4 635.4 1618.6 636.6 1623.3 637.5C1628.5 638.5 1634.4 639.2 1640.0 640.0C1645.6 640.8 1651.1 641.8 1656.7 642.5C1662.2 643.2 1667.4 643.8 1673.3 644.2C1680.0 644.6 1687.8 644.5 1695.0 644.7"/>
<path stroke="#009000" d="M126.3 489.7C126.4 485.1 126.5 482.5 126.7 476.0C127.3 459.7 129.2 417.4 130.5 390.7C131.6 367.1 133.2 339.4 134.0 324.0C134.4 315.8 134.6 312.4 135.0 305.3C135.6 295.8 136.2 283.1 137.2 272.0C138.3 260.9 139.9 249.8 141.3 238.7C142.7 227.6 144.3 216.4 145.8 205.3C147.2 194.2 148.7 184.9 150.0 172.0C151.9 154.2 153.5 128.0 155.3 108.3C156.8 91.3 158.4 74.0 160.0 60.8C161.1 51.4 162.2 42.8 163.3 36.7C164.0 32.9 164.6 30.0 165.5 27.5C166.1 25.7 167.0 23.1 167.7 23.1C168.5 23.1 169.3 26.1 170.0 28.0C170.8 30.4 171.3 33.1 172.0 36.7C173.1 42.7 174.3 51.4 175.5 60.8C177.1 74.0 179.0 91.3 180.5 108.3C182.3 128.0 183.8 154.2 185.3 172.0C186.4 184.9 187.2 194.2 188.3 205.3C189.4 216.4 190.6 227.6 191.7 238.7C192.8 249.8 193.7 260.9 194.7 272.0C195.7 283.1 196.6 295.8 197.5 305.3C198.2 312.4 198.6 315.8 199.4 324.0C200.9 339.4 203.1 367.1 205.8 390.7C208.9 417.4 214.3 456.1 217.5 476.0C219.2 486.8 220.1 492.7 222.0 501.0C224.0 509.4 226.5 517.7 229.2 526.0C231.9 534.4 235.5 542.6 238.3 551.0C241.1 559.3 243.7 568.9 246.2 576.0C248.1 581.4 249.6 585.2 251.7 590.0C254.1 595.4 256.8 601.6 260.0 606.7C263.0 611.5 266.0 616.4 270.0 620.0C273.8 623.5 278.4 626.2 283.3 628.3C288.4 630.6 294.1 632.3 300.0 633.0C306.3 633.7 314.5 631.5 320.0 632.0C323.9 632.3 326.7 633.6 330.0 634.2C333.3 634.8 336.7 636.1 340.0 635.8C343.4 635.5 346.5 633.7 350.0 632.5C353.8 631.2 357.8 629.7 361.7 628.3C365.6 626.9 369.6 625.3 373.3 624.2C376.7 623.2 379.9 622.0 383.3 621.7C386.6 621.4 389.7 622.3 393.3 622.5C397.4 622.8 402.2 623.4 406.7 623.3C411.1 623.2 416.0 622.8 420.0 621.7C423.6 620.7 427.0 619.4 430.0 617.5C433.1 615.5 435.9 613.1 438.3 610.0C441.0 606.5 442.9 601.8 445.0 597.0C447.5 591.3 449.9 583.9 452.0 578.0C453.8 573.0 455.5 568.4 457.0 564.0C458.3 560.2 458.7 556.3 460.5 553.3C462.1 550.6 464.4 548.1 466.7 546.7C468.7 545.5 471.2 546.0 473.3 545.0C475.4 544.0 477.6 543.0 479.2 540.8C481.7 537.4 482.6 530.7 484.2 525.0C486.1 518.3 487.5 510.1 489.5 503.0C491.4 496.2 493.5 488.4 495.8 483.3C497.4 479.8 499.0 476.8 500.8 475.0C502.1 473.7 503.4 472.7 505.0 472.5C506.9 472.3 509.5 473.8 511.7 474.7C514.0 475.7 516.4 476.7 518.3 478.3C520.3 480.0 521.7 482.7 523.3 485.0C524.8 487.2 525.9 490.1 527.5 491.7C528.8 492.9 530.5 492.8 531.7 494.2C533.4 496.1 534.4 500.2 535.8 503.3C537.2 506.5 538.4 509.6 540.0 513.3C542.0 517.8 544.3 523.0 546.7 528.3C549.3 534.1 551.9 541.4 555.0 546.7C557.6 551.2 560.3 554.5 563.3 558.3C566.4 562.3 570.2 565.9 573.3 570.0C576.4 574.2 578.9 578.9 581.7 583.3C584.5 587.8 587.0 593.0 590.0 596.7C592.6 599.8 595.3 602.5 598.3 604.2C600.9 605.7 603.8 606.8 606.7 606.7C609.9 606.6 613.5 605.0 616.7 603.3C620.2 601.5 623.3 598.5 626.7 595.8C630.5 592.8 634.1 588.1 638.3 585.8C642.2 583.7 646.8 581.9 650.8 582.0C654.6 582.1 658.2 583.7 661.7 585.8C665.8 588.3 669.1 592.8 673.3 596.7C678.3 601.3 684.3 607.2 690.0 611.7C695.4 616.0 701.0 619.9 706.7 623.3C712.1 626.5 717.7 629.3 723.3 631.7C728.8 634.0 734.7 635.8 740.0 637.5C744.7 639.0 749.0 640.6 753.3 641.3C757.3 641.9 761.1 642.2 765.0 641.7C768.9 641.2 773.0 639.9 776.7 638.3C780.3 636.8 783.6 634.6 786.7 632.5C789.7 630.5 792.4 628.5 795.0 625.8C798.0 622.8 800.6 618.8 803.3 615.0C806.2 611.0 808.8 606.4 811.7 602.5C814.4 598.9 817.1 595.5 820.0 592.5C822.7 589.7 825.4 587.0 828.3 585.0C831.0 583.2 833.8 581.7 836.7 580.8C839.4 580.0 842.3 579.3 845.0 579.7C847.8 580.1 850.6 581.7 853.3 583.3C856.2 585.1 858.8 588.3 861.7 590.0C864.4 591.5 867.2 592.2 870.0 593.3C872.8 594.4 875.5 595.1 878.3 596.7C881.6 598.6 884.9 601.9 888.3 604.2C891.6 606.4 894.7 608.7 898.3 610.0C901.9 611.3 906.0 611.4 910.0 611.7C914.3 612.1 919.2 611.7 923.3 612.0C926.9 612.3 930.1 613.6 933.3 613.3C936.2 613.1 939.1 612.3 941.7 610.8C944.7 609.1 947.3 606.0 950.0 603.3C952.8 600.5 955.6 597.4 958.3 594.2C961.2 590.8 964.2 587.2 966.7 583.3C969.3 579.2 971.1 574.6 973.3 570.0C975.6 565.2 977.6 559.4 980.0 555.0C982.1 551.2 984.6 547.9 986.7 545.0C988.4 542.6 989.9 540.5 991.7 538.8C993.3 537.3 995.2 536.9 996.7 535.0C998.9 532.3 1000.9 527.8 1002.5 523.3C1004.5 517.6 1005.5 510.5 1006.7 503.3C1008.1 495.1 1009.0 486.1 1010.0 476.7C1011.1 466.2 1012.0 454.4 1012.8 443.3C1013.6 432.2 1014.1 421.9 1015.0 410.0C1016.0 396.1 1017.7 379.7 1018.7 365.0C1019.6 351.0 1019.9 337.1 1020.8 324.0C1021.6 311.8 1022.7 300.3 1023.7 288.7C1024.7 277.4 1025.6 266.4 1026.7 255.3C1027.7 244.2 1028.7 230.1 1030.0 222.0C1030.8 217.3 1031.5 213.7 1032.5 211.0C1033.2 209.3 1034.0 207.0 1034.7 207.0C1035.5 207.0 1036.3 209.3 1037.0 211.0C1038.1 213.7 1038.9 217.3 1039.7 222.0C1041.1 230.1 1042.1 244.2 1043.3 255.3C1044.5 266.4 1045.7 278.4 1046.7 288.7C1047.6 297.6 1048.3 303.9 1049.2 313.7C1050.5 327.8 1051.8 348.5 1053.3 365.0C1054.7 380.5 1056.5 396.1 1058.0 410.0C1059.3 421.9 1060.4 432.2 1061.7 443.3C1063.0 454.4 1064.4 465.9 1065.8 476.7C1067.1 487.0 1068.5 496.7 1070.0 506.7C1071.5 516.7 1073.1 527.2 1075.0 536.7C1076.7 545.5 1078.3 554.6 1080.8 562.0C1082.9 568.1 1085.4 573.1 1088.3 578.3C1091.2 583.5 1094.7 589.0 1098.3 593.3C1101.5 597.1 1104.6 601.1 1108.3 603.3C1111.6 605.3 1115.8 606.9 1119.2 606.7C1122.4 606.5 1125.4 604.6 1128.3 602.5C1131.8 599.9 1135.2 595.9 1138.3 591.7C1141.9 586.9 1145.2 580.6 1148.3 575.0C1151.3 569.5 1154.1 563.7 1156.7 558.3C1159.1 553.2 1161.0 547.9 1163.3 543.3C1165.4 539.1 1167.7 536.2 1170.0 531.7C1173.1 525.6 1177.2 517.2 1180.0 510.0C1182.7 503.3 1184.6 497.1 1186.7 490.0C1189.0 482.2 1190.9 472.6 1193.3 465.0C1195.4 458.4 1197.8 450.6 1200.0 446.7C1201.2 444.6 1202.2 443.4 1203.4 442.4C1204.4 441.6 1205.6 440.8 1206.7 440.8C1207.8 440.8 1209.0 441.7 1210.0 442.6C1211.3 443.7 1212.0 445.4 1213.3 447.5C1215.5 451.2 1219.0 457.7 1221.7 463.3C1224.6 469.5 1227.3 476.3 1230.0 483.3C1232.9 490.8 1235.5 499.8 1238.3 506.7C1240.5 512.3 1242.4 518.3 1245.0 521.7C1246.8 524.0 1248.9 526.4 1250.8 526.3C1252.8 526.2 1254.9 523.3 1256.7 520.8C1259.2 517.4 1261.0 511.2 1263.3 506.7C1265.5 502.4 1267.5 497.6 1270.0 494.2C1272.0 491.4 1274.1 489.0 1276.7 487.5C1279.2 486.0 1282.2 485.8 1285.0 485.0C1287.8 484.2 1290.7 483.9 1293.3 482.5C1296.2 481.0 1298.9 477.9 1301.7 475.8C1304.4 473.8 1307.4 471.1 1310.0 470.0C1312.0 469.1 1313.8 468.6 1315.8 468.8C1318.2 469.0 1321.1 470.0 1323.3 471.7C1325.9 473.7 1327.8 477.8 1330.0 480.8C1332.2 483.9 1334.3 487.4 1336.7 490.0C1338.8 492.3 1340.8 494.4 1343.3 495.8C1345.8 497.3 1348.9 498.7 1351.7 498.7C1354.5 498.7 1357.1 496.8 1360.0 495.8C1363.2 494.7 1366.6 492.6 1370.0 492.5C1373.3 492.4 1376.7 494.1 1380.0 495.0C1383.3 495.9 1386.4 497.4 1390.0 498.0C1394.1 498.6 1399.5 497.3 1403.3 498.3C1406.5 499.1 1409.1 500.6 1411.7 502.5C1414.7 504.6 1417.1 507.8 1420.0 510.8C1423.2 514.2 1426.7 518.1 1430.0 521.7C1433.3 525.3 1436.2 529.8 1440.0 532.5C1443.7 535.1 1448.7 538.4 1452.5 538.0C1455.9 537.7 1459.1 534.5 1461.7 531.7C1464.5 528.6 1466.1 524.1 1468.3 520.0C1470.6 515.7 1472.7 510.9 1475.0 506.7C1477.2 502.8 1479.5 499.4 1481.7 495.8C1483.9 492.2 1486.4 488.7 1488.3 485.0C1490.2 481.2 1491.8 477.4 1493.3 473.3C1494.9 469.0 1496.3 464.1 1497.5 460.0C1498.5 456.4 1499.1 453.6 1500.0 450.0C1501.0 445.9 1502.0 442.2 1503.0 436.7C1504.6 428.1 1506.7 414.4 1508.3 403.3C1509.9 392.2 1511.2 379.2 1512.5 370.0C1513.5 363.5 1514.1 357.2 1515.3 353.3C1516.0 351.1 1516.7 349.4 1517.5 348.3C1518.0 347.6 1518.6 347.0 1519.2 347.0C1519.8 347.0 1520.5 347.8 1521.0 348.5C1521.8 349.6 1522.2 351.2 1522.8 353.3C1524.0 357.2 1525.2 363.5 1526.7 370.0C1528.8 379.2 1531.6 392.2 1534.2 403.3C1536.8 414.4 1540.4 428.1 1542.5 436.7C1543.8 442.1 1544.5 445.1 1545.7 450.0C1547.2 456.0 1548.9 463.3 1550.6 470.0C1552.3 476.7 1553.9 483.5 1555.8 490.0C1557.6 496.3 1559.5 503.1 1561.7 508.3C1563.5 512.5 1565.3 516.4 1567.5 519.2C1569.3 521.4 1571.1 523.2 1573.3 524.2C1575.3 525.1 1577.8 525.0 1580.0 525.0C1582.0 525.0 1584.0 523.7 1585.8 524.2C1587.7 524.7 1589.3 526.3 1590.8 528.3C1592.9 531.0 1594.2 536.0 1595.8 540.0C1597.5 544.3 1599.0 549.2 1600.8 553.3C1602.4 556.9 1603.9 560.3 1605.8 563.3C1607.6 566.1 1609.6 568.9 1611.7 570.8C1613.5 572.4 1615.4 573.8 1617.5 574.2C1619.8 574.6 1622.6 573.4 1625.0 573.0C1627.3 572.6 1629.6 571.5 1631.7 572.0C1633.8 572.5 1635.5 574.2 1637.5 575.8C1639.9 577.8 1642.2 581.1 1645.0 583.3C1648.0 585.6 1651.6 587.4 1655.0 589.2C1658.3 591.0 1661.8 592.7 1665.0 594.2C1667.9 595.6 1670.7 597.2 1673.3 598.0C1675.4 598.7 1677.1 599.2 1679.2 599.2C1681.6 599.2 1684.3 598.3 1686.7 597.5C1689.0 596.8 1691.2 595.7 1693.3 594.7C1695.3 593.8 1697.2 592.7 1699.2 591.7"/>
<path stroke="#88aaff" d="M506.2 647.0C507.1 643.0 508.0 639.7 509.0 635.0C510.4 628.5 511.6 619.7 513.3 611.7C515.2 603.1 517.5 593.0 520.0 585.0C522.1 578.3 524.6 572.3 526.7 566.7C528.5 561.9 530.2 558.4 531.7 553.3C533.6 547.0 535.1 539.2 536.7 531.7C538.4 523.5 539.8 514.3 541.7 506.0C543.5 498.2 545.7 490.8 547.5 483.3C549.3 476.0 551.0 468.9 552.5 461.7C554.0 454.5 555.2 446.7 556.7 440.0C558.0 434.1 559.0 427.2 560.8 423.3C561.9 420.8 563.4 417.8 564.7 417.8C566.2 417.9 567.7 422.8 569.2 425.3C570.6 427.7 572.2 432.4 573.5 432.4C574.8 432.4 576.0 428.5 577.0 425.5C578.6 420.4 579.3 411.9 580.4 404.0C581.7 394.4 582.7 382.0 584.0 372.0C585.1 363.2 586.3 353.7 587.5 347.3C588.3 343.2 588.8 339.4 590.0 337.3C590.7 336.1 591.6 334.7 592.5 334.8C593.8 335.0 595.1 340.1 596.7 342.3C598.1 344.3 599.9 347.8 601.3 347.7C602.7 347.6 604.0 344.8 605.0 342.3C606.7 338.1 607.2 330.7 608.3 324.0C609.6 315.9 611.0 305.8 612.0 297.0C613.0 288.5 613.6 280.3 614.5 272.0C615.4 263.7 616.5 254.5 617.5 247.0C618.3 240.9 619.0 235.1 620.0 230.3C620.8 226.5 621.3 222.9 622.5 220.3C623.4 218.4 624.6 215.8 625.8 215.7C627.1 215.6 628.6 218.6 630.0 219.5C631.0 220.2 632.0 221.0 633.0 220.8C634.3 220.5 635.7 218.3 636.7 216.2C638.2 213.2 639.0 208.1 640.0 203.7C641.1 198.9 642.1 193.8 643.0 188.7C643.9 183.3 644.5 178.6 645.3 172.0C646.5 162.4 648.0 148.3 649.2 136.7C650.4 125.4 651.4 114.4 652.5 103.3C653.6 92.2 654.6 80.3 655.8 70.0C656.9 61.1 657.9 52.3 659.2 45.0C660.2 39.3 661.5 33.6 662.5 30.0C663.1 27.9 663.6 26.2 664.2 25.0C664.6 24.2 665.0 23.1 665.5 23.1C666.0 23.1 666.5 24.2 667.0 25.0C667.7 26.2 668.1 27.9 668.7 30.0C669.7 33.6 670.8 39.3 671.7 45.0C672.9 52.3 673.8 61.1 675.0 70.0C676.4 80.3 678.0 92.2 679.7 103.3C681.4 114.4 683.3 125.4 685.0 136.7C686.8 148.3 688.8 161.7 690.3 172.0C691.5 180.1 692.3 186.2 693.3 193.7C694.4 201.7 695.5 210.8 696.7 218.7C697.8 225.7 698.8 232.7 700.0 238.7C701.0 243.6 701.9 248.7 703.3 252.0C704.3 254.3 705.3 256.3 706.7 257.3C707.9 258.1 709.6 257.5 710.8 258.3C712.2 259.2 713.3 260.9 714.2 262.8C715.5 265.5 715.9 269.6 716.7 273.7C717.7 279.0 718.5 285.9 719.2 292.0C719.9 298.1 720.3 304.6 720.8 310.3C721.2 315.2 721.6 318.7 722.0 324.0C722.5 331.1 722.8 340.1 723.3 349.0C723.9 359.3 724.6 371.2 725.3 382.3C726.0 393.4 726.6 405.4 727.5 415.7C728.2 424.6 729.1 432.6 730.0 440.7C730.8 448.3 731.5 456.1 732.5 463.0C733.3 469.1 734.1 476.3 735.3 480.0C735.9 481.9 736.7 484.2 737.5 484.2C738.7 484.2 740.2 478.2 741.7 475.8C743.0 473.8 744.5 470.7 745.8 470.8C747.3 470.9 748.8 475.0 750.0 478.3C752.1 483.8 753.4 493.6 755.0 501.7C756.7 510.3 758.0 519.6 760.0 528.3C761.9 536.8 764.2 545.9 766.7 553.3C768.7 559.5 770.8 565.4 773.3 570.0C775.3 573.7 777.6 577.5 780.0 579.2C781.6 580.4 783.1 580.9 785.0 580.8C787.4 580.7 790.4 578.7 793.3 577.5C796.5 576.2 799.8 574.5 803.3 573.3C807.0 572.0 811.2 571.8 815.0 570.0C819.1 568.1 822.9 564.9 826.7 561.7C830.7 558.3 834.7 553.4 838.3 550.0C841.3 547.2 844.1 544.0 846.7 542.5C848.5 541.5 850.2 540.4 851.7 540.8C853.6 541.3 855.2 544.3 856.7 546.7C858.6 549.8 859.9 554.8 861.7 558.3C863.3 561.4 864.6 564.7 866.7 566.7C868.6 568.5 871.1 570.2 873.3 570.3C875.5 570.4 878.0 569.0 880.0 567.5C882.3 565.8 884.2 563.0 885.8 560.0C887.7 556.3 888.7 551.6 890.0 546.7C891.6 540.7 892.7 532.9 894.2 526.7C895.5 521.3 896.4 515.5 898.3 511.7C899.7 509.0 901.6 505.6 903.3 505.5C904.9 505.4 906.7 508.1 908.3 510.0C910.4 512.6 912.2 517.3 914.2 520.0C915.8 522.2 917.6 525.4 919.2 525.3C920.9 525.2 922.9 521.5 924.2 518.3C926.4 513.0 927.0 503.3 928.3 495.0C929.8 485.6 931.3 474.6 932.5 465.0C933.6 456.3 934.5 448.2 935.5 440.0C936.4 432.1 937.1 423.4 938.3 416.7C939.3 411.6 940.1 407.0 941.7 403.3C943.0 400.3 945.0 398.2 946.7 395.8C948.3 393.5 950.2 391.8 951.7 389.2C953.6 386.1 955.2 382.0 956.7 378.3C958.2 374.5 959.1 369.5 960.8 366.7C962.0 364.8 963.8 362.2 965.0 362.5C966.7 362.9 967.9 369.4 969.2 373.3C970.7 377.9 971.5 385.1 973.3 388.3C974.3 390.1 975.7 392.2 976.7 392.0C978.0 391.8 979.1 388.0 980.0 385.0C981.5 380.1 982.3 372.3 983.3 365.0C984.5 356.4 985.6 346.0 986.7 336.7C987.8 327.7 988.8 316.9 990.0 310.0C990.8 305.6 991.3 301.4 992.5 299.2C993.2 297.9 994.2 296.6 995.0 296.7C996.1 296.8 997.3 299.6 998.3 301.7C999.7 304.7 1000.6 309.2 1001.7 313.3C1002.9 318.0 1004.0 322.9 1005.0 328.3C1006.2 334.5 1007.2 341.3 1008.3 348.3C1009.5 356.2 1010.6 364.7 1011.7 373.3C1012.8 382.3 1013.9 392.2 1015.0 401.0C1016.0 409.0 1016.7 417.2 1017.8 424.0C1018.7 429.6 1019.3 435.1 1020.8 439.0C1021.9 441.8 1023.4 445.7 1025.0 445.8C1026.5 445.9 1028.3 441.9 1030.0 440.0C1031.7 438.1 1033.6 434.1 1035.3 434.2C1036.9 434.2 1038.6 437.3 1040.0 440.0C1042.3 444.5 1043.4 452.9 1045.0 460.0C1046.8 467.8 1048.3 477.0 1050.0 485.0C1051.6 492.5 1053.3 499.6 1055.0 506.7C1056.6 513.5 1058.3 520.4 1060.0 526.7C1061.6 532.5 1063.1 538.5 1065.0 543.3C1066.5 547.1 1067.9 550.1 1070.0 553.3C1072.3 556.8 1075.7 559.5 1078.3 563.3C1081.3 567.7 1083.9 573.3 1086.7 578.3C1089.5 583.3 1092.0 588.9 1095.0 593.3C1097.6 597.1 1100.2 600.9 1103.3 603.3C1105.9 605.4 1109.0 605.9 1111.7 607.5C1114.5 609.2 1117.0 611.6 1120.0 613.3C1123.3 615.2 1127.7 618.9 1130.8 618.3C1133.8 617.7 1136.3 613.7 1138.3 610.0C1141.0 605.0 1141.7 596.8 1143.3 590.0C1145.0 582.9 1146.6 575.2 1148.3 568.3C1149.9 561.9 1151.3 555.1 1153.0 550.0C1154.3 546.1 1155.4 542.4 1157.0 540.0C1158.1 538.3 1159.5 536.3 1160.8 536.3C1162.1 536.3 1163.6 538.2 1165.0 540.0C1167.3 542.9 1169.3 549.2 1171.7 553.0C1173.8 556.3 1175.7 559.0 1178.3 561.7C1181.1 564.7 1184.8 567.8 1188.3 570.0C1191.5 572.0 1194.9 574.0 1198.3 574.7C1201.6 575.3 1205.3 573.7 1208.3 574.2C1210.8 574.6 1213.0 575.2 1215.0 576.7C1217.6 578.6 1219.7 582.7 1221.7 585.8C1223.6 588.8 1224.8 592.1 1226.7 595.0C1228.6 597.9 1230.7 601.0 1233.3 603.0C1235.7 604.9 1238.9 605.5 1241.7 606.7C1244.5 607.9 1247.0 609.5 1250.0 610.3C1253.1 611.2 1256.9 610.9 1260.0 611.7C1262.9 612.5 1265.7 613.8 1268.3 615.0C1270.7 616.1 1272.9 618.1 1275.0 618.3C1276.8 618.4 1278.4 617.9 1280.0 616.7C1282.4 615.0 1284.4 610.4 1286.7 607.5C1288.8 604.8 1291.1 601.4 1293.3 600.0C1294.7 599.1 1296.0 598.6 1297.5 598.8C1299.3 599.1 1301.4 600.9 1303.3 602.5C1305.6 604.4 1307.7 607.7 1310.0 610.0C1312.2 612.1 1314.2 614.3 1316.7 615.8C1319.2 617.3 1322.1 618.4 1325.0 619.2C1328.1 620.1 1332.0 620.0 1335.0 620.8C1337.5 621.5 1339.6 622.0 1341.7 623.3C1344.1 624.7 1346.1 627.7 1348.3 629.2C1350.2 630.5 1352.5 632.4 1354.2 632.0C1356.2 631.5 1357.9 628.1 1359.2 625.0C1361.2 620.2 1361.4 611.8 1362.5 605.0C1363.6 597.9 1364.7 590.4 1365.8 583.3C1366.9 576.5 1368.0 569.3 1369.2 563.3C1370.2 558.4 1371.3 554.6 1372.5 550.0C1373.8 545.1 1374.8 539.6 1376.7 535.0C1378.5 530.7 1381.1 527.1 1383.3 523.3C1385.5 519.6 1387.3 515.3 1390.0 512.5C1392.4 510.0 1395.3 507.6 1398.3 507.0C1401.4 506.4 1404.8 508.6 1408.3 509.2C1412.0 509.9 1416.5 509.7 1420.0 510.8C1423.1 511.8 1425.7 513.0 1428.3 515.0C1431.4 517.4 1434.0 521.5 1436.7 525.0C1439.6 528.7 1442.2 532.9 1445.0 536.7C1447.7 540.4 1450.9 543.8 1453.3 547.5C1455.6 551.1 1457.2 554.4 1459.0 558.5C1461.1 563.4 1463.0 569.6 1465.0 575.0C1466.9 580.1 1468.4 586.1 1470.8 590.0C1472.6 593.0 1474.8 596.8 1477.0 597.0C1479.0 597.2 1480.9 593.9 1483.3 592.5C1486.2 590.8 1490.3 587.5 1493.3 587.5C1495.8 587.5 1498.0 588.9 1500.0 590.8C1502.7 593.4 1504.4 599.4 1506.7 603.3C1508.8 606.9 1510.8 611.0 1513.3 613.3C1515.3 615.1 1517.7 616.5 1520.0 616.7C1522.2 616.9 1524.5 615.3 1526.7 614.7C1528.9 614.1 1531.2 612.8 1533.3 613.3C1535.6 613.8 1537.7 616.4 1540.0 618.3C1542.7 620.5 1545.2 623.7 1548.3 625.8C1551.3 627.9 1554.6 629.3 1558.3 630.8C1562.7 632.6 1568.1 634.4 1573.3 635.8C1578.7 637.2 1584.4 638.5 1590.0 639.2C1595.5 639.9 1601.1 639.9 1606.7 640.3C1612.2 640.6 1617.8 641.1 1623.3 641.3C1628.9 641.5 1634.9 640.9 1640.0 641.3C1644.3 641.6 1647.8 642.7 1651.7 643.0C1655.6 643.3 1660.0 643.9 1663.3 643.3C1665.9 642.9 1667.7 641.9 1670.0 640.8C1672.7 639.5 1675.4 637.1 1678.3 635.8C1681.3 634.5 1685.0 633.0 1687.7 632.9C1689.8 632.8 1691.6 633.5 1693.3 634.2C1695.0 634.9 1696.4 636.1 1698.0 637.0"/>
</g>
<rect x="72" y="61.3" width="286" height="46" fill="#fff" fill-opacity="0.85"/>
<text x="72.9" y="103.4" font-size="54.47" textLength="282.0" lengthAdjust="spacingAndGlyphs" fill="#000">Connecticut</text>
<rect x="862.0" y="66.4" width="870.8" height="36" fill="#fff" fill-opacity="0.85"/>
<text x="1731.8" y="98.7" font-size="42.00" textLength="871.7" lengthAdjust="spacingAndGlyphs" text-anchor="end" fill="#000000">Excess seasonality-adjusted CMR (-12-108%)</text>
<rect x="1202.6" y="128.6" width="530.2" height="36" fill="#fff" fill-opacity="0.85"/>
<text x="1731.8" y="160.8" font-size="42.00" textLength="530.6" lengthAdjust="spacingAndGlyphs" text-anchor="end" fill="#bb0000">Daily COVID deaths (0-647)</text>
<rect x="1228.9" y="190.7" width="503.9" height="36" fill="#fff" fill-opacity="0.85"/>
<text x="1731.8" y="223.0" font-size="42.00" textLength="504.6" lengthAdjust="spacingAndGlyphs" text-anchor="end" fill="#ff8888">Daily new cases (0-57325)</text>
<rect x="1220.6" y="252.8" width="512.2" height="36" fill="#fff" fill-opacity="0.85"/>
<text x="1731.8" y="285.1" font-size="42.00" textLength="514.0" lengthAdjust="spacingAndGlyphs" text-anchor="end" fill="#009000">PCR positivity rate (0-42%)</text>
<rect x="1047.3" y="315.0" width="685.5" height="36" fill="#fff" fill-opacity="0.85"/>
<text x="1731.8" y="347.3" font-size="42.00" textLength="687.0" lengthAdjust="spacingAndGlyphs" text-anchor="end" fill="#88aaff">Daily new vaccine doses (99-47436)</text>
<text transform="translate(48.70 728.0) rotate(-90)" font-size="42.60" textLength="154.4" lengthAdjust="spacingAndGlyphs" text-anchor="end" fill="#000" stroke="#000" stroke-width="0.3">Jan 1 20</text>
<text transform="translate(130.27 728.0) rotate(-90)" font-size="42.60" textLength="158.8" lengthAdjust="spacingAndGlyphs" text-anchor="end" fill="#000" stroke="#000" stroke-width="0.3">Mar 1 20</text>
<text transform="translate(213.19 728.0) rotate(-90)" font-size="42.60" textLength="165.5" lengthAdjust="spacingAndGlyphs" text-anchor="end" fill="#000" stroke="#000" stroke-width="0.3">May 1 20</text>
<text transform="translate(296.12 728.0) rotate(-90)" font-size="42.60" textLength="140.9" lengthAdjust="spacingAndGlyphs" text-anchor="end" fill="#000" stroke="#000" stroke-width="0.3">Jul 1 20</text>
<text transform="translate(380.40 728.0) rotate(-90)" font-size="42.60" textLength="161.1" lengthAdjust="spacingAndGlyphs" text-anchor="end" fill="#000" stroke="#000" stroke-width="0.3">Sep 1 20</text>
<text transform="translate(463.33 728.0) rotate(-90)" font-size="42.60" textLength="161.1" lengthAdjust="spacingAndGlyphs" text-anchor="end" fill="#000" stroke="#000" stroke-width="0.3">Nov 1 20</text>
<text transform="translate(546.25 728.0) rotate(-90)" font-size="42.60" textLength="154.4" lengthAdjust="spacingAndGlyphs" text-anchor="end" fill="#000" stroke="#000" stroke-width="0.3">Jan 1 21</text>
<text transform="translate(626.46 728.0) rotate(-90)" font-size="42.60" textLength="158.8" lengthAdjust="spacingAndGlyphs" text-anchor="end" fill="#000" stroke="#000" stroke-width="0.3">Mar 1 21</text>
<text transform="translate(709.39 728.0) rotate(-90)" font-size="42.60" textLength="165.5" lengthAdjust="spacingAndGlyphs" text-anchor="end" fill="#000" stroke="#000" stroke-width="0.3">May 1 21</text>
<text transform="translate(792.31 728.0) rotate(-90)" font-size="42.60" textLength="140.9" lengthAdjust="spacingAndGlyphs" text-anchor="end" fill="#000" stroke="#000" stroke-width="0.3">Jul 1 21</text>
<text transform="translate(876.60 728.0) rotate(-90)" font-size="42.60" textLength="161.1" lengthAdjust="spacingAndGlyphs" text-anchor="end" fill="#000" stroke="#000" stroke-width="0.3">Sep 1 21</text>
<text transform="translate(959.52 728.0) rotate(-90)" font-size="42.60" textLength="161.1" lengthAdjust="spacingAndGlyphs" text-anchor="end" fill="#000" stroke="#000" stroke-width="0.3">Nov 1 21</text>
<text transform="translate(1042.45 728.0) rotate(-90)" font-size="42.60" textLength="154.4" lengthAdjust="spacingAndGlyphs" text-anchor="end" fill="#000" stroke="#000" stroke-width="0.3">Jan 1 22</text>
<text transform="translate(1122.65 728.0) rotate(-90)" font-size="42.60" textLength="158.8" lengthAdjust="spacingAndGlyphs" text-anchor="end" fill="#000" stroke="#000" stroke-width="0.3">Mar 1 22</text>
<text transform="translate(1205.58 728.0) rotate(-90)" font-size="42.60" textLength="165.5" lengthAdjust="spacingAndGlyphs" text-anchor="end" fill="#000" stroke="#000" stroke-width="0.3">May 1 22</text>
<text transform="translate(1288.51 728.0) rotate(-90)" font-size="42.60" textLength="140.9" lengthAdjust="spacingAndGlyphs" text-anchor="end" fill="#000" stroke="#000" stroke-width="0.3">Jul 1 22</text>
<text transform="translate(1372.79 728.0) rotate(-90)" font-size="42.60" textLength="161.1" lengthAdjust="spacingAndGlyphs" text-anchor="end" fill="#000" stroke="#000" stroke-width="0.3">Sep 1 22</text>
<text transform="translate(1455.72 728.0) rotate(-90)" font-size="42.60" textLength="161.1" lengthAdjust="spacingAndGlyphs" text-anchor="end" fill="#000" stroke="#000" stroke-width="0.3">Nov 1 22</text>
<text transform="translate(1538.64 728.0) rotate(-90)" font-size="42.60" textLength="154.4" lengthAdjust="spacingAndGlyphs" text-anchor="end" fill="#000" stroke="#000" stroke-width="0.3">Jan 1 23</text>
<text transform="translate(1618.85 728.0) rotate(-90)" font-size="42.60" textLength="158.8" lengthAdjust="spacingAndGlyphs" text-anchor="end" fill="#000" stroke="#000" stroke-width="0.3">Mar 1 23</text>
<text transform="translate(1701.77 728.0) rotate(-90)" font-size="42.60" textLength="165.5" lengthAdjust="spacingAndGlyphs" text-anchor="end" fill="#000" stroke="#000" stroke-width="0.3">May 1 23</text>
<text transform="translate(1784.70 728.0) rotate(-90)" font-size="42.60" textLength="140.9" lengthAdjust="spacingAndGlyphs" text-anchor="end" fill="#000" stroke="#000" stroke-width="0.3">Jul 1 23</text>
</svg></body></html>
